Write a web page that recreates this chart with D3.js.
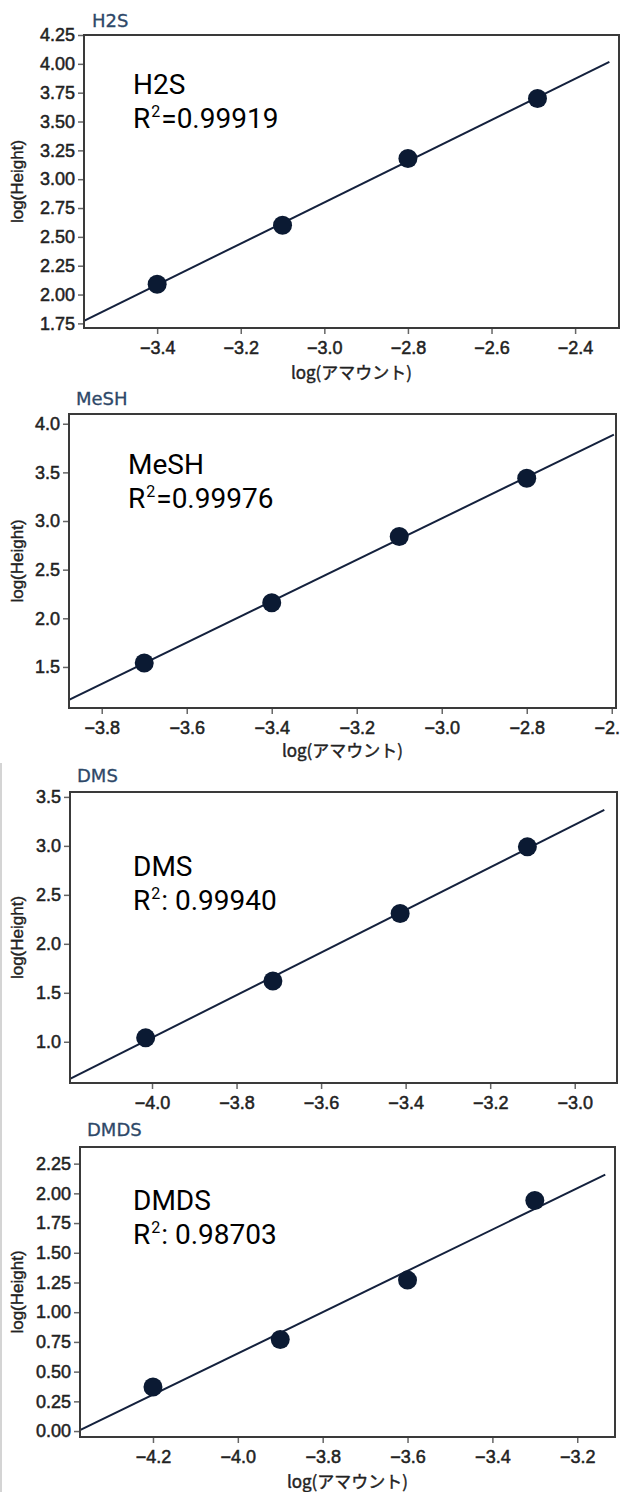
<!DOCTYPE html>
<html>
<head>
<meta charset="utf-8">
<script src="https://cdn.jsdelivr.net/npm/d3@7"></script>
<style>
  body { margin: 0; background: #fff; }
  svg { display: block; }
</style>
</head>
<body>
<script>
// ---- values ----
const compounds = ["H2S", "MeSH", "DMS", "DMDS"];
const r2Text = ["=0.99919", "=0.99976", ": 0.99940", ": 0.98703"];

const xH2S = [-3.40, -3.10, -2.80, -2.49];
const yH2S = [2.09, 2.60, 3.18, 3.70];
const xMeSH = [-3.70, -3.40, -3.10, -2.80];
const yMeSH = [1.54, 2.16, 2.84, 3.44];
const xDMS = [-4.015, -3.714, -3.413, -3.112];
const yDMS = [1.04, 1.62, 2.31, 2.99];
const xDMDS = [-4.20, -3.90, -3.60, -3.30];
const yDMDS = [0.37, 0.77, 1.27, 1.94];

const xTicksH2S = [-3.4, -3.2, -3.0, -2.8, -2.6, -2.4];
const yTicksH2S = [1.75, 2.00, 2.25, 2.50, 2.75, 3.00, 3.25, 3.50, 3.75, 4.00, 4.25];
const xTicksMeSH = [-3.8, -3.6, -3.4, -3.2, -3.0, -2.8, -2.6];
const yTicksMeSH = [1.5, 2.0, 2.5, 3.0, 3.5, 4.0];
const xTicksDMS = [-4.0, -3.8, -3.6, -3.4, -3.2, -3.0];
const yTicksDMS = [1.0, 1.5, 2.0, 2.5, 3.0, 3.5];
const xTicksDMDS = [-4.2, -4.0, -3.8, -3.6, -3.4, -3.2];
const yTicksDMDS = [0.00, 0.25, 0.50, 0.75, 1.00, 1.25, 1.50, 1.75, 2.00, 2.25];

// axis extents and where each fitted line stops
const xDomains = [[-3.575, -2.295], [-3.877, -2.59], [-4.194, -2.90], [-4.372, -3.111]];
const yDomains = [[1.71, 4.25], [1.078, 4.10], [0.579, 3.55], [-0.05, 2.39]];
const lineEnds = [-2.318, -2.595, -2.93, -3.134];

const xLabel = "log(アマウント)";
const yLabel = "log(Height)";

// ---- layout ----
const W = 620, H = 1492;
const panels = [
  { xs: xH2S, ys: yH2S, xt: xTicksH2S, yt: yTicksH2S, yf: ".2f",
    box: { l: 84, r: 619, t: 35, b: 328 }, title: [92, 27], ann: [133, 94], xl: 379 },
  { xs: xMeSH, ys: yMeSH, xt: xTicksMeSH, yt: yTicksMeSH, yf: ".1f",
    box: { l: 69, r: 616, t: 414, b: 708 }, title: [76, 405], ann: [128, 474], xl: 757 },
  { xs: xDMS, ys: yDMS, xt: xTicksDMS, yt: yTicksDMS, yf: ".1f",
    box: { l: 70, r: 617, t: 792, b: 1083 }, title: [77, 782], ann: [133, 876], xl: null },
  { xs: xDMDS, ys: yDMDS, xt: xTicksDMDS, yt: yTicksDMDS, yf: ".2f",
    box: { l: 80, r: 615, t: 1147, b: 1437 }, title: [87, 1136], ann: [133, 1210], xl: 1488 }
];

const svg = d3.select("body").append("svg")
  .attr("width", W)
  .attr("height", H)
  .style("background", "#fff");

// faint frame edge of the lower screenshot
svg.append("line")
  .attr("x1", 1).attr("x2", 1).attr("y1", 763).attr("y2", H)
  .attr("stroke", "#d4d4d4").attr("stroke-width", 2);

// least squares fit
function fit(xs, ys) {
  const mx = d3.mean(xs), my = d3.mean(ys);
  const sxy = d3.sum(xs, (v, i) => (v - mx) * (ys[i] - my));
  const sxx = d3.sum(xs, v => (v - mx) * (v - mx));
  const b = sxy / sxx;
  return v => my + b * (v - mx);
}

panels.forEach((p, i) => {
  const g = svg.append("g");
  const bx = p.box;

  const x = d3.scaleLinear().domain(xDomains[i]).range([bx.l, bx.r]);
  const y = d3.scaleLinear().domain(yDomains[i]).range([bx.b, bx.t]);

  // title over the frame
  g.append("text")
    .attr("x", p.title[0]).attr("y", p.title[1])
    .style("font", "18px 'DejaVu Sans', sans-serif")
    .attr("fill", "#2e4868")
    .attr("stroke", "#2e4868").attr("stroke-width", 0.3)
    .text(compounds[i]);

  const clipId = "clip" + i;
  g.append("clipPath").attr("id", clipId)
    .append("rect")
    .attr("x", bx.l).attr("y", bx.t)
    .attr("width", bx.r - bx.l).attr("height", bx.b - bx.t);

  // fitted line
  const f = fit(p.xs, p.ys);
  const ends = [xDomains[i][0], lineEnds[i]];
  g.append("path")
    .attr("clip-path", `url(#${clipId})`)
    .attr("d", d3.line().x(d => x(d)).y(d => y(f(d)))(ends))
    .attr("fill", "none")
    .attr("stroke", "#14213d")
    .attr("stroke-width", 2);

  // points
  g.append("g")
    .selectAll("circle")
    .data(p.xs.map((v, k) => [v, p.ys[k]]))
    .join("circle")
    .attr("cx", d => x(d[0]))
    .attr("cy", d => y(d[1]))
    .attr("r", 9.5)
    .attr("fill", "#0b1a33");

  // axes
  const xAxis = g.append("g")
    .attr("transform", `translate(0,${bx.b})`)
    .call(d3.axisBottom(x).tickValues(p.xt).tickFormat(d3.format(".1f"))
      .tickSize(6).tickPadding(7));
  const yAxis = g.append("g")
    .attr("transform", `translate(${bx.l},0)`)
    .call(d3.axisLeft(y).tickValues(p.yt).tickFormat(d3.format(p.yf))
      .tickSize(6).tickPadding(3));
  [xAxis, yAxis].forEach(a => {
    a.select(".domain").remove();
    a.selectAll(".tick line").attr("stroke", "#666").attr("stroke-width", 1.5);
    a.selectAll(".tick text")
      .attr("fill", "#222")
      .attr("stroke", "#222").attr("stroke-width", 0.5)
      .style("font", "18px 'Liberation Sans', Arial, sans-serif");
  });

  // frame
  g.append("rect")
    .attr("x", bx.l).attr("y", bx.t)
    .attr("width", bx.r - bx.l).attr("height", bx.b - bx.t)
    .attr("fill", "none")
    .attr("stroke", "#3a3a3a")
    .attr("stroke-width", 2);

  // axis titles
  g.append("text")
    .attr("transform", `translate(23,${(bx.t + bx.b) / 2}) rotate(-90)`)
    .attr("text-anchor", "middle")
    .attr("fill", "#222")
    .attr("stroke", "#222").attr("stroke-width", 0.4)
    .style("font", "17px 'Liberation Sans', Arial, sans-serif")
    .text(yLabel);
  if (p.xl !== null) {
    g.append("text")
      .attr("x", (bx.l + bx.r) / 2).attr("y", p.xl)
      .attr("text-anchor", "middle")
      .attr("fill", "#222")
      .attr("stroke", "#222").attr("stroke-width", 0.4)
      .style("font", "17px 'Noto Sans CJK JP', sans-serif")
      .text(xLabel);
  }

  // annotation
  const ann = g.append("g").style("font", "28px Roboto, sans-serif").attr("fill", "#000");
  ann.append("text").attr("x", p.ann[0]).attr("y", p.ann[1]).text(compounds[i]);
  const r2 = ann.append("text").attr("x", p.ann[0]).attr("y", p.ann[1] + 34);
  r2.append("tspan").text("R");
  r2.append("tspan").attr("dx", 1).attr("dy", -11).style("font-size", "16px").text("2");
  r2.append("tspan").attr("dx", 1).attr("dy", 11).text(r2Text[i]);
});
</script>
</body>
</html>
